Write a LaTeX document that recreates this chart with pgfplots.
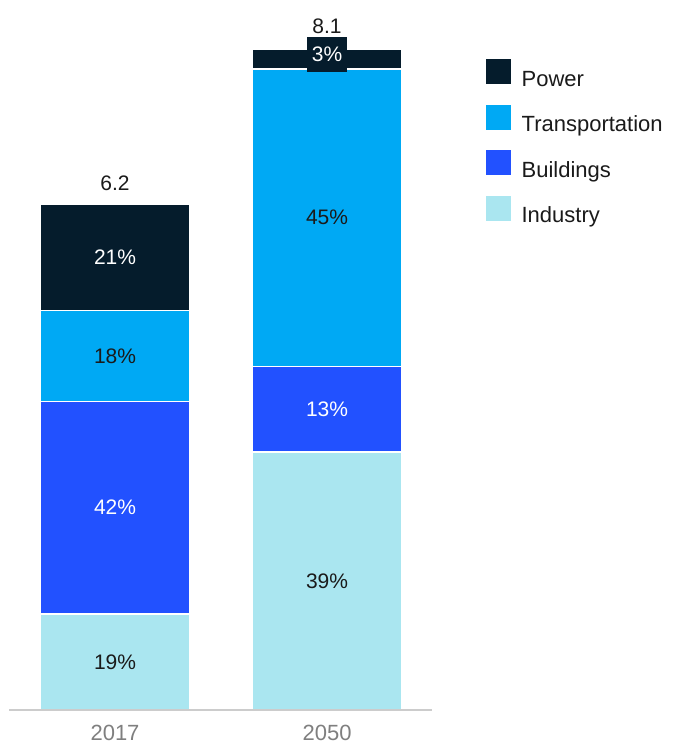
\documentclass[border=0pt]{standalone}
\usepackage{pgfplots}
\pgfplotsset{compat=1.18}
\usepackage{fontspec}
\setmainfont{Liberation Sans}
\definecolor{cPower}{HTML}{051C2C}
\definecolor{cTrans}{HTML}{00A9F4}
\definecolor{cBuild}{HTML}{2251FF}
\definecolor{cInd}{HTML}{AAE6F0}
\definecolor{cAxis}{HTML}{CCCCCC}
\definecolor{cYear}{HTML}{7F7F7F}
\definecolor{cText}{HTML}{1A1A1A}
\begin{document}
\begin{tikzpicture}
\useasboundingbox (0,0) rectangle (678pt,744pt);
\begin{axis}[
  at={(9pt,34pt)}, anchor=south west,
  scale only axis, width=423pt, height=710pt,
  xmin=-0.5, xmax=1.495, ymin=0, ymax=8.70,
  ybar stacked, bar width=150pt,
  hide y axis,
  axis x line*=bottom,
  axis on top,
  x axis line style={-, draw=cAxis, line width=1.2pt},
  xtick={0,1}, xticklabels={2017,2050},
  major tick length=0pt,
  /pgf/number format/assume math mode=true,
  xticklabel style={font=\fontsize{22}{22}\selectfont, text=cYear, inner sep=0pt, anchor=north, yshift=-15pt},
  every axis plot/.append style={draw=white, line width=1.5pt},
  reverse legend,
  legend image code/.code={\fill[#1,draw=none] (0pt,1.7pt) rectangle (25pt,26.7pt);},
  legend style={at={(axis description cs:1.1270,0.9165)}, anchor=north west,
    draw=none, fill=none, inner sep=0pt,
    nodes={inner sep=0pt, anchor=base west, text depth=5pt, font=\fontsize{22}{22}\selectfont, text=cText},
    column sep=10.7pt, row sep=13.8pt},
  legend cell align=left,
  clip=false,
]
\addplot[fill=cInd] coordinates {(0,1.178) (1,3.159)};
\addplot[fill=cBuild] coordinates {(0,2.604) (1,1.053)};
\addplot[fill=cTrans] coordinates {(0,1.116) (1,3.645)};
\addplot[fill=cPower] coordinates {(0,1.302) (1,0.243)};
\legend{Industry,Buildings,Transportation,Power}

\coordinate (a1) at (axis cs:0,0.589);
\coordinate (a2) at (axis cs:0,2.480);
\coordinate (a3) at (axis cs:0,4.340);
\coordinate (a4) at (axis cs:0,5.549);
\coordinate (b1) at (axis cs:1,1.5795);
\coordinate (b2) at (axis cs:1,3.6855);
\coordinate (b3) at (axis cs:1,6.0345);
\coordinate (b4) at (axis cs:1,8.03);
\coordinate (ta) at (axis cs:0,6.2);
\coordinate (tb) at (axis cs:1,8.1);
\end{axis}
\tikzset{pl/.style={font=\fontsize{21}{21}\selectfont, inner sep=0pt}}
\node[pl, text=cText] at (a1) {19\%};
\node[pl, text=white] at (a2) {42\%};
\node[pl, text=cText] at (a3) {18\%};
\node[pl, text=white] at (a4) {21\%};
\node[pl, text=cText] at (b1) {39\%};
\node[pl, text=white] at (b2) {13\%};
\node[pl, text=cText] at (b3) {45\%};
\node[pl, text=white, fill=cPower, inner xsep=5pt, inner ysep=10pt] at (b4) {3\%};
\node[anchor=south, font=\fontsize{21}{21}\selectfont, inner sep=0pt, text=cText, yshift=13pt] at (ta) {6.2};
\node[anchor=south, font=\fontsize{21}{21}\selectfont, inner sep=0pt, text=cText, yshift=15pt] at (tb) {8.1};
\end{tikzpicture}
\end{document}
